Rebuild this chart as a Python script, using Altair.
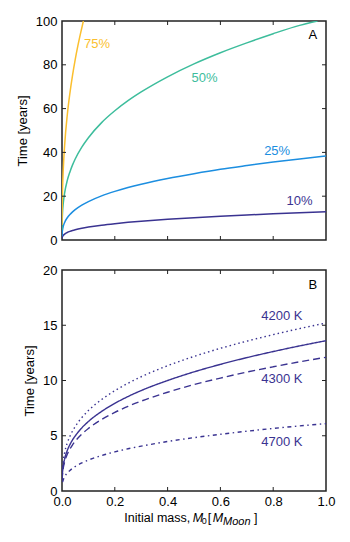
import altair as alt
import pandas as pd

FONT = "Liberation Sans"

# ---------------- data ----------------
# Panel A: time to lose a given mass fraction
mass_top = [0.0001, 0.0005, 0.001, 0.002, 0.005, 0.01, 0.02, 0.03, 0.04, 0.05, 0.075,
            0.1, 0.15, 0.2, 0.25, 0.3, 0.4, 0.5, 0.6, 0.7, 0.8, 0.9, 1.0]
t10 = [0.56, 0.97, 1.23, 1.56, 2.13, 2.69, 3.41, 3.92, 4.32, 4.66, 5.35,
       5.90, 6.77, 7.46, 8.05, 8.57, 9.45, 10.19, 10.84, 11.43, 11.96, 12.45, 12.9]
t25 = [1.68, 2.9, 3.67, 4.64, 6.34, 8.03, 10.16, 11.66, 12.85, 13.86, 15.92,
       17.55, 20.15, 22.2, 23.97, 25.5, 28.1, 30.3, 32.3, 34.0, 35.6, 37.0, 38.4]
mass50 = [0.0001, 0.0005, 0.001, 0.002, 0.005, 0.01, 0.02, 0.03, 0.04, 0.05, 0.075,
          0.1, 0.15, 0.2, 0.25, 0.3, 0.4, 0.5, 0.6, 0.7, 0.8, 0.9, 0.968]
t50 = [4.55, 7.8, 9.9, 12.5, 17.0, 21.5, 27.2, 31.1, 34.3, 37.0, 42.4,
       46.7, 53.6, 59.0, 63.6, 67.6, 74.5, 80.4, 85.5, 90.0, 94.2, 98.0, 100.0]
mass75 = [0.0001, 0.0005, 0.001, 0.002, 0.005, 0.01, 0.02, 0.03, 0.04, 0.05, 0.06, 0.07, 0.081]
t75 = [6.9, 13.1, 17.2, 22.7, 32.8, 43.3, 57.1, 67.1, 75.3, 82.4, 88.6, 94.2, 100.0]

# Panel B: 10% mass loss time for different temperatures
mass_bot = [0.0005, 0.001, 0.002, 0.005, 0.01, 0.02, 0.03, 0.04, 0.05, 0.075,
            0.1, 0.15, 0.2, 0.25, 0.3, 0.4, 0.5, 0.6, 0.7, 0.8, 0.9, 1.0]
t_base = [1.07, 1.34, 1.70, 2.31, 2.91, 3.67, 4.20, 4.63, 4.98, 5.71,
          6.29, 7.20, 7.93, 8.55, 9.09, 10.0, 10.78, 11.46, 12.07, 12.62, 13.13, 13.6]
t4200 = [1.34, 1.67, 2.08, 2.79, 3.48, 4.35, 4.95, 5.43, 5.83, 6.64,
         7.28, 8.28, 9.08, 9.75, 10.34, 11.34, 12.18, 12.91, 13.56, 14.15, 14.70, 15.2]
t4300 = [0.98, 1.24, 1.56, 2.11, 2.65, 3.33, 3.80, 4.18, 4.50, 5.15,
         5.66, 6.47, 7.11, 7.66, 8.13, 8.94, 9.63, 10.22, 10.76, 11.24, 11.69, 12.1]
mass4700 = mass_bot[2:]
t4700 = [0.8, 1.02, 1.29, 1.63, 1.86, 2.06, 2.22, 2.54, 2.80, 3.21,
         3.54, 3.82, 4.06, 4.48, 4.83, 5.13, 5.41, 5.66, 5.89, 6.1]

top_series = ["10%", "25%", "50%", "75%"]
top_colors = ["#3a3391", "#1c8ee0", "#3dbd9c", "#fbbf2e"]
bot_series = ["base", "4200 K", "4300 K", "4700 K"]
bot_dashes = [[1, 0], [1.5, 3], [7, 4], [4, 3.5, 1.5, 3.5]]
PURPLE = "#3a3391"

top_labels = ["75%", "50%", "25%", "10%"]
top_label_m = [0.133, 0.54, 0.815, 0.90]
top_label_t = [89.5, 74.0, 40.6, 17.8]
bot_labels = ["4200 K", "4300 K", "4700 K"]
bot_label_m = [0.833, 0.833, 0.833]
bot_label_t = [15.8, 10.1, 4.43]

x_ticks = [0.2, 0.4, 0.6, 0.8]
y_ticks_top = [20, 40, 60, 80]
y_ticks_bot = [5, 10, 15]

# ---------------- tables ----------------
top_df = pd.concat([
    pd.DataFrame({"M": mass_top, "T": t10, "s": "10%"}),
    pd.DataFrame({"M": mass_top, "T": t25, "s": "25%"}),
    pd.DataFrame({"M": mass50, "T": t50, "s": "50%"}),
    pd.DataFrame({"M": mass75, "T": t75, "s": "75%"}),
])
bot_df = pd.concat([
    pd.DataFrame({"M": mass_bot, "T": t_base, "s": "base"}),
    pd.DataFrame({"M": mass_bot, "T": t4200, "s": "4200 K"}),
    pd.DataFrame({"M": mass_bot, "T": t4300, "s": "4300 K"}),
    pd.DataFrame({"M": mass4700, "T": t4700, "s": "4700 K"}),
])
top_lab = pd.DataFrame({"M": top_label_m, "T": top_label_t, "s": top_labels})
bot_lab = pd.DataFrame({"M": bot_label_m, "T": bot_label_t, "s": bot_labels})

W, HT, HB = 264, 219, 221
TICK = 4

xscale = alt.Scale(domain=[0, 1], nice=False, zero=False)


def ticks(xs, ys, ymax, H):
    xd = pd.DataFrame({"v": xs})
    yd = pd.DataFrame({"v": ys})
    ys_ = alt.Scale(domain=[0, ymax], nice=False)
    st = dict(color="#222", strokeWidth=1)
    return [
        alt.Chart(xd).mark_rule(**st).encode(x=alt.X("v:Q", scale=xscale), y=alt.value(H), y2=alt.value(H - TICK)),
        alt.Chart(xd).mark_rule(**st).encode(x=alt.X("v:Q", scale=xscale), y=alt.value(0), y2=alt.value(TICK)),
        alt.Chart(yd).mark_rule(**st).encode(y=alt.Y("v:Q", scale=ys_), x=alt.value(0), x2=alt.value(TICK)),
        alt.Chart(yd).mark_rule(**st).encode(y=alt.Y("v:Q", scale=ys_), x=alt.value(W), x2=alt.value(W - TICK)),
    ]


yaxis_common = dict(ticks=False, domain=False, grid=False, title="Time [years]",
                    labelPadding=5, titlePadding=6)

# ---------------- panel A ----------------
top_lines = alt.Chart(top_df).mark_line(strokeWidth=1.5, clip=True, interpolate="monotone").encode(
    x=alt.X("M:Q", scale=xscale, axis=None),
    y=alt.Y("T:Q", scale=alt.Scale(domain=[0, 100], nice=False),
            axis=alt.Axis(values=[0, 20, 40, 60, 80, 100], **yaxis_common)),
    color=alt.Color("s:N", scale=alt.Scale(domain=top_series, range=top_colors), legend=None),
    detail="s:N",
)
top_text = alt.Chart(top_lab).mark_text(fontSize=13, font=FONT).encode(
    x=alt.X("M:Q", scale=xscale), y=alt.Y("T:Q"), text="s:N",
    color=alt.Color("s:N", legend=None),
)
top_A = alt.Chart(pd.DataFrame({"M": [0.95], "T": [93.6], "s": ["A"]})).mark_text(
    fontSize=13, font=FONT, color="black").encode(
    x=alt.X("M:Q", scale=xscale), y=alt.Y("T:Q"), text="s:N")

top = alt.layer(top_lines, top_text, top_A, *ticks(x_ticks, y_ticks_top, 100, HT)).properties(
    width=W, height=HT)

# ---------------- panel B ----------------
bot_lines = alt.Chart(bot_df).mark_line(strokeWidth=1.4, color=PURPLE, clip=True, interpolate="monotone").encode(
    x=alt.X("M:Q", scale=xscale,
            axis=alt.Axis(values=[0, 0.2, 0.4, 0.6, 0.8, 1.0], format=".1f", ticks=False,
                          domain=False, grid=False, title=None, labelPadding=4)),
    y=alt.Y("T:Q", scale=alt.Scale(domain=[0, 20], nice=False),
            axis=alt.Axis(values=[0, 5, 10, 15, 20], **yaxis_common)),
    strokeDash=alt.StrokeDash("s:N", scale=alt.Scale(domain=bot_series, range=bot_dashes), legend=None),
    detail="s:N",
)
bot_text = alt.Chart(bot_lab).mark_text(fontSize=13, font=FONT, color=PURPLE).encode(
    x=alt.X("M:Q", scale=xscale), y=alt.Y("T:Q"), text="s:N")
bot_B = alt.Chart(pd.DataFrame({"M": [0.95], "T": [18.6], "s": ["B"]})).mark_text(
    fontSize=13, font=FONT, color="black").encode(
    x=alt.X("M:Q", scale=xscale), y=alt.Y("T:Q"), text="s:N")

one = pd.DataFrame({"k": [0]})
TY = HB + 31


def piece(txt, px, size, italic=False, dy=0):
    kw = dict(text=txt, align="left", baseline="alphabetic", fontSize=size, font=FONT,
              color="black", dy=dy)
    if italic:
        kw["fontStyle"] = "italic"
    return alt.Chart(one).mark_text(**kw).encode(x=alt.value(px), y=alt.value(TY))


xtitle = [
    piece("Initial mass,", 62.3, 12.5),
    piece("M", 130.7, 12.5, italic=True),
    piece("0", 139.7, 9, dy=2),
    piece("[", 145.7, 12.5),
    piece("M", 150.7, 12.5, italic=True),
    piece("Moon", 161, 11, italic=True, dy=2.5),
    piece("]", 192, 12.5),
]

bottom = alt.layer(bot_lines, bot_text, bot_B, *ticks(x_ticks, y_ticks_bot, 20, HB), *xtitle).properties(
    width=W, height=HB)

chart = alt.vconcat(top, bottom, spacing=15).properties(
    padding={"left": 7, "top": 6, "right": 5, "bottom": 5}
).configure_view(stroke="#222", strokeWidth=1.5).configure_axis(
    labelFont=FONT, titleFont=FONT, labelFontSize=13, titleFontSize=13,
    labelColor="black", titleColor="black", titleFontWeight="normal",
    labelFlush=False, labelOverlap=False,
)

chart.save("out.html", embed_options={"renderer": "svg", "actions": False})
